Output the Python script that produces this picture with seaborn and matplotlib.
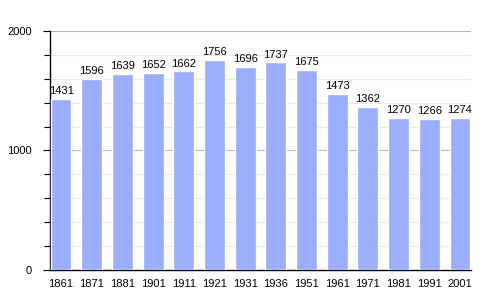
import matplotlib
matplotlib.use("Agg")
import matplotlib.pyplot as plt
import seaborn as sns
import pandas as pd
from matplotlib.ticker import MultipleLocator

years = ["1861", "1871", "1881", "1901", "1911", "1921", "1931", "1936", "1951", "1961", "1971", "1981", "1991", "2001"]
population = [1431, 1596, 1639, 1652, 1662, 1756, 1696, 1737, 1675, 1473, 1362, 1270, 1266, 1274]

df = pd.DataFrame({"year": years, "pop": population})

sns.set_style("white")
plt.rcParams['font.family'] = ['Liberation Sans', 'DejaVu Sans']
plt.rcParams['text.color'] = 'black'
plt.rcParams['xtick.color'] = 'black'
plt.rcParams['ytick.color'] = 'black'

fig = plt.figure(figsize=(5, 3), dpi=100)
ax = fig.add_axes([0.1, 0.1, 0.842, 0.797])

sns.barplot(data=df, x="year", y="pop", color="#9aaefc", width=0.68, saturation=1, ax=ax, zorder=3)

ax.set_xlim(-0.36, 13.36)
ax.set_ylim(0, 2000)
ax.yaxis.set_major_locator(MultipleLocator(1000))
ax.yaxis.set_minor_locator(MultipleLocator(200))
ax.grid(axis="y", which="minor", color="#e9e9e9", linewidth=0.8, zorder=0)
ax.grid(axis="y", which="major", color="#b8b8b8", linewidth=0.8, zorder=0)

for s in ["top", "right"]:
    ax.spines[s].set_visible(False)
ax.spines["left"].set_linewidth(1.0)
ax.spines["bottom"].set_linewidth(1.0)
ax.spines["left"].set_color("black")
ax.spines["bottom"].set_color("black")

ax.tick_params(axis="y", which="major", left=True, direction="out", length=5, width=0.8, labelsize=8, pad=8, labelcolor="black")
ax.tick_params(axis="y", which="minor", left=True, direction="out", length=4, width=0.8)
ax.tick_params(axis="x", bottom=False, labelsize=8, pad=3, labelcolor="black")
ax.set_xlabel("")
ax.set_ylabel("")

for c in ax.containers:
    ax.bar_label(c, labels=[str(v) for v in population], fontsize=8, padding=2, color="black")

fig.savefig("out.png", dpi=100)
